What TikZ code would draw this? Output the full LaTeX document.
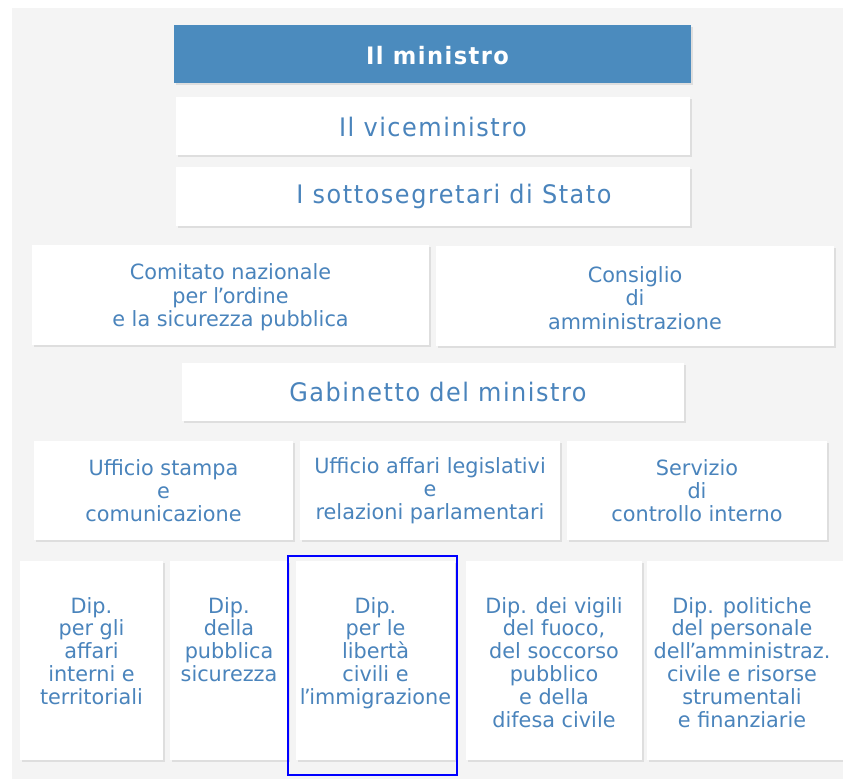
\documentclass[tikz,border=0pt]{standalone}
\usepackage{fontspec}
\setmainfont{DejaVu Sans}[FakeStretch=0.99]
\newfontfamily\wideface{DejaVu Sans}[FakeStretch=0.94,LetterSpace=6]
\newfontfamily\boldface{DejaVu Sans}[FakeStretch=0.94,LetterSpace=6]
\newcommand\apo{\kern-1.5pt’\kern-1.5pt}
\definecolor{bgc}{RGB}{244,244,244}
\definecolor{txtc}{RGB}{74,132,188}
\definecolor{minc}{RGB}{75,139,190}
\definecolor{shadc}{RGB}{222,222,222}
\tikzset{
  boxst/.style={fill=white, inner sep=0pt, outer sep=0pt, align=center, text=txtc},
  topfont/.style={font=\wideface\fontsize{25.5}{28}\selectfont},
  midfont/.style={font=\fontsize{21}{23.3}\selectfont},
  dtext/.style={inner sep=0pt, align=center, text=txtc, anchor=north, font=\fontsize{21}{22.8}\selectfont},
  selbox/.style={draw=blue, line width=1.3pt, inner sep=0pt}
}
\newcommand\orgbox[7]{%
  \fill[shadc] ({#2+2},{#3+2}) rectangle ({#4+2},{#5+2});
  \node[boxst, minimum width={#4-#2}, minimum height={#5-#3}] (#1) at ({(#2+#4)/2},{(#3+#5)/2}) {};
  \node[boxst, fill=none, #7] (#1-t) at (#1.center) {#6};
}
\begin{document}
\begin{tikzpicture}[x=1pt,y=-1pt]
\useasboundingbox (0,0) rectangle (843,779);
\fill[white] (0,0) rectangle (843,779);
\fill[bgc] (12,8) rectangle (843,779);
% top
\fill[shadc] (176,27) rectangle (693,85);
\node[boxst, fill=minc, minimum width=517, minimum height=58] (min) at (432.5,54) {};
\node[boxst, fill=none, text=white, font=\boldface\bfseries\fontsize{24}{28}\selectfont, xshift=5, yshift=-2] (min-t) at (min.center) {Il ministro};
\orgbox{vice}{176}{97}{690}{155}{Il viceministro}{topfont, yshift=-1}
\orgbox{sotto}{176}{167}{690}{226}{I sottosegretari di Stato}{topfont, xshift=21}
% row 2
\orgbox{comitato}{32}{245}{429}{345}{Comitato nazionale\\per l\apo ordine\\e la sicurezza pubblica}{midfont, yshift=-2.5}
\orgbox{consiglio}{436}{246}{834}{346}{Consiglio\\di\\amministrazione}{midfont, yshift=-2}
\orgbox{gab}{182}{363}{684}{421}{Gabinetto del ministro}{topfont, xshift=5}
% row 3
\orgbox{stampa}{34}{441}{293}{540}{Ufficio stampa\\e\\comunicazione}{midfont}
\orgbox{affari}{300}{441}{560}{540}{Ufficio affari legislativi\\e\\relazioni parlamentari}{midfont}
\orgbox{servizio}{567}{441}{827}{540}{Servizio\\di\\controllo interno}{midfont}
% row 4
\orgbox{dipa}{20}{561}{163}{760}{}{}
\orgbox{dipb}{170}{561}{288}{760}{}{}
\orgbox{dipc}{296}{561}{455}{760}{}{}
\orgbox{dipd}{466}{561}{642}{760}{}{}
\orgbox{dipe}{647}{561}{843}{760}{}{}
\node[dtext] (ta) at ({(20+163)/2},597) {Dip.\\per gli\\affari\\interni e\\territoriali};
\node[dtext] (tb) at ({(170+288)/2},597) {Dip.\\della\\pubblica\\sicurezza};
\node[dtext] (tc) at ({(296+455)/2},597) {Dip.\\per le\\libertà\\civili e\\l\apo immigrazione};
\node[dtext] (td) at ({(466+642)/2},597) {Dip. dei vigili\\del fuoco,\\del soccorso\\pubblico\\e della\\difesa civile};
\node[dtext] (te) at ({(647+837)/2},597) {Dip. politiche\\del personale\\dell\apo amministraz.\\civile e risorse\\strumentali\\e finanziarie};
\node[selbox, minimum width=169, minimum height=219] (sel) at (372.5,665.5) {};
\end{tikzpicture}
\end{document}
